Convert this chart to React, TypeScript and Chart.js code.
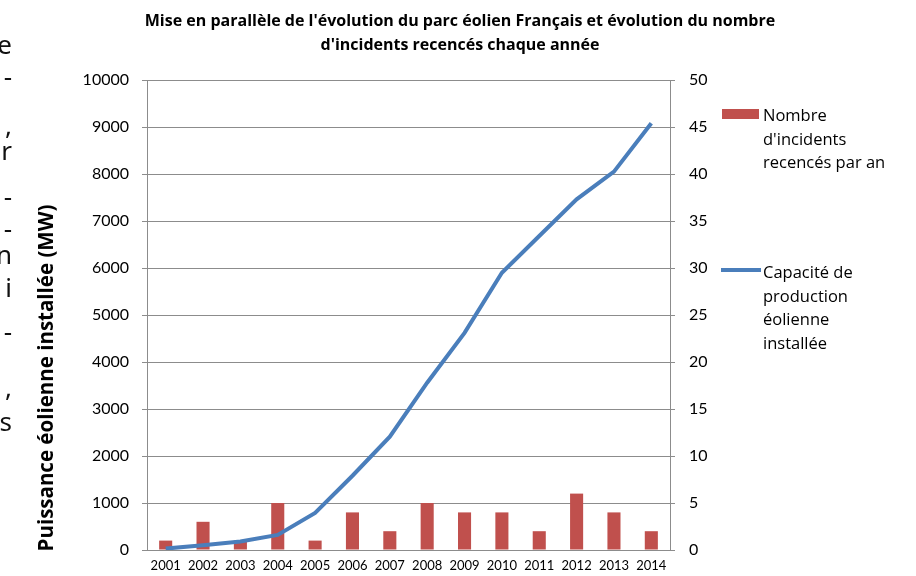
import React, { useEffect, useRef } from "react";
import { Chart, registerables } from "chart.js";

Chart.register(...registerables);

const years = ["2001", "2002", "2003", "2004", "2005", "2006", "2007", "2008", "2009", "2010", "2011", "2012", "2013", "2014"];
const incidents = [1, 3, 1, 5, 1, 4, 2, 5, 4, 4, 2, 6, 4, 2];
const capacity = [30, 100, 180, 320, 790, 1580, 2410, 3560, 4620, 5900, 6680, 7460, 8050, 9080];

const titleLines = [
  "Mise en parallèle de l'évolution du parc éolien Français et évolution du nombre",
  "d'incidents recencés chaque année",
];
const barLabel = ["Nombre", "d'incidents", "recencés par an"];
const lineLabel = ["Capacité de", "production", "éolienne", "installée"];
const leftAxisTitle = "Puissance éolienne installée (MW)";
const fragments = ["e", "-", ",", "r", "-", "-", "n", "i", "-", ",", "s"];
const fragmentY = [44, 76, 125, 150, 196, 228, 254, 287, 331, 387, 421];

const FONT = "Lato, 'Open Sans', sans-serif";
const OPEN = "'Open Sans', sans-serif";

export default function App() {
  const ref = useRef<HTMLCanvasElement | null>(null);

  useEffect(() => {
    const canvas = ref.current;
    if (!canvas) return;
    const chart = new Chart(canvas, {
      data: {
        labels: years,
        datasets: [
          {
            type: "line",
            label: lineLabel.join(" "),
            data: capacity,
            yAxisID: "y",
            borderColor: "#4A7EBB",
            borderWidth: 4,
            pointRadius: 0,
            tension: 0,
            order: 0,
          } as any,
          {
            type: "bar",
            label: barLabel.join(" "),
            data: incidents,
            yAxisID: "y1",
            backgroundColor: "#C0504D",
            barPercentage: 0.7,
            categoryPercentage: 0.5,
            order: 1,
          } as any,
        ],
      },
      options: {
        responsive: false,
        animation: false,
        layout: { padding: { left: 35, right: 196, top: 80, bottom: 0 } },
        plugins: {
          legend: { display: false },
          title: { display: false },
          tooltip: { enabled: false },
        },
        scales: {
          x: {
            grid: { display: false, drawTicks: false },
            border: { display: true, color: "#8c8c8c" },
            ticks: { color: "#000", font: { family: FONT, size: 13 }, padding: 8, maxRotation: 0, autoSkip: false },
            afterFit: (s: any) => { s.height = 26; },
          },
          y: {
            position: "left",
            min: 0,
            max: 10000,
            ticks: { stepSize: 1000, color: "#000", font: { family: FONT, size: 16 }, padding: 13, callback: (v: any) => String(v) },
            grid: { color: "#8c8c8c", tickLength: 5, drawTicks: true },
            border: { color: "#8c8c8c" },
            afterFit: (s: any) => { s.width = 112; },
          },
          y1: {
            position: "right",
            min: 0,
            max: 50,
            ticks: { stepSize: 5, color: "#000", font: { family: FONT, size: 16 }, padding: 14, callback: (v: any) => String(v) },
            grid: { drawOnChartArea: false, color: "#8c8c8c", tickLength: 5 },
            border: { color: "#8c8c8c" },
            afterFit: (s: any) => { s.width = 50; },
          },
        },
      } as any,
    });
    return () => chart.destroy();
  }, []);

  return (
    <div style={{ position: "absolute", left: 0, top: 0, width: 916, height: 576, background: "#fff", fontFamily: FONT, overflow: "hidden" }}>
      <canvas ref={ref} width={916} height={576} style={{ position: "absolute", left: 0, top: 0 }} />
      <div style={{ position: "absolute", left: 0, top: 8, width: 920, textAlign: "center", fontWeight: "bold", fontSize: 16, lineHeight: "24px", color: "#000", fontFamily: OPEN }}>
        {titleLines.map((t, i) => (<div key={i}>{t}</div>))}
      </div>
      <div style={{ position: "absolute", left: 45, top: 378, width: 0, height: 0 }}>
        <div style={{ position: "absolute", left: -250, top: -15, width: 500, textAlign: "center", transform: "rotate(-90deg)", fontFamily: OPEN, fontWeight: "bold", fontSize: 20.5, lineHeight: "30px", color: "#000", whiteSpace: "nowrap" }}>
          {leftAxisTitle}
        </div>
      </div>
      {fragments.map((f, i) => (
        <div key={i} style={{ position: "absolute", right: 904, top: fragmentY[i] - 17, fontSize: 26, lineHeight: "34px", color: "#111", fontFamily: "'Noto Sans', sans-serif" }}>{f}</div>
      ))}
      <div style={{ position: "absolute", left: 722, top: 109, width: 37, height: 10, background: "#C0504D" }} />
      <div style={{ position: "absolute", left: 763, top: 103, fontSize: 16.5, lineHeight: "23.5px", color: "#000", fontFamily: OPEN }}>
        {barLabel.map((t, i) => (<div key={i}>{t}</div>))}
      </div>
      <div style={{ position: "absolute", left: 721, top: 268, width: 40, height: 4, background: "#4A7EBB" }} />
      <div style={{ position: "absolute", left: 763, top: 260, fontSize: 16.5, lineHeight: "23.5px", color: "#000", fontFamily: OPEN }}>
        {lineLabel.map((t, i) => (<div key={i}>{t}</div>))}
      </div>
    </div>
  );
}
